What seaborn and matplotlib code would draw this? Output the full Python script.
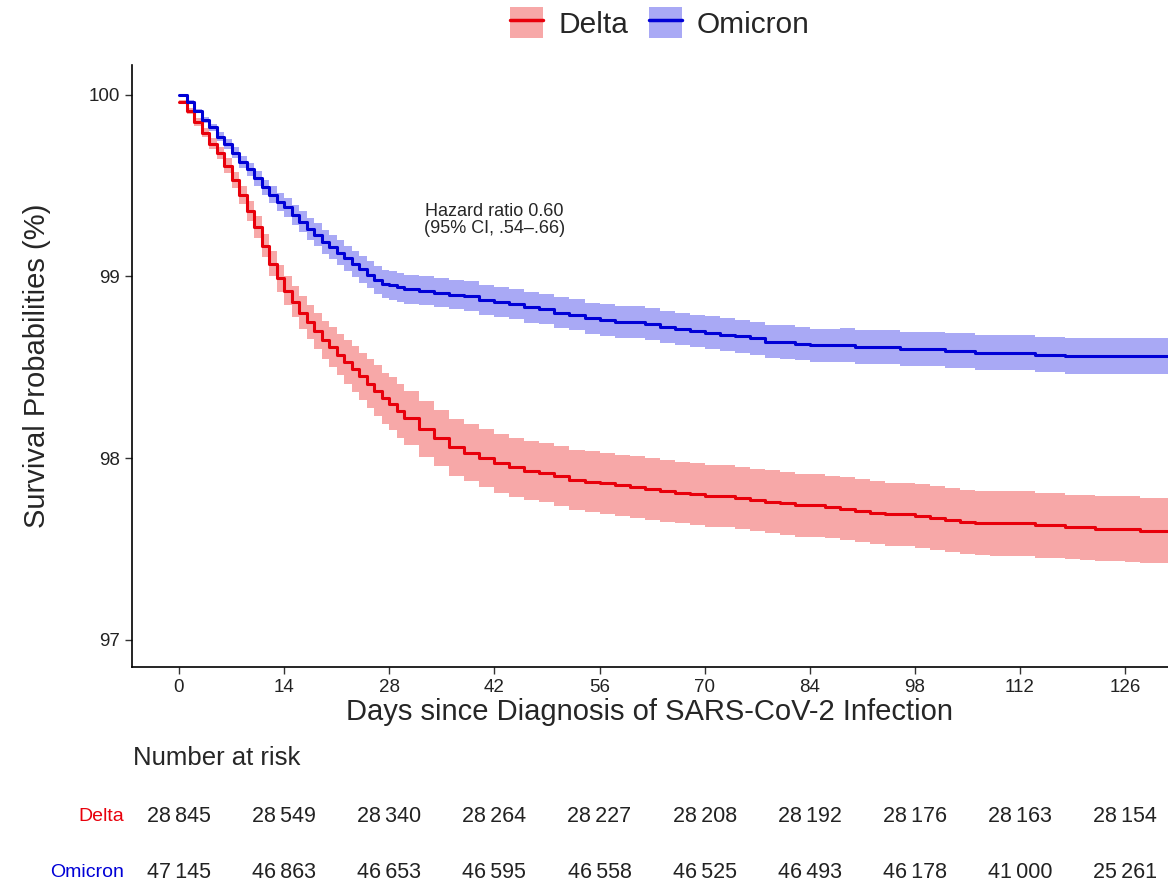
import numpy as np
import pandas as pd
import matplotlib
matplotlib.use("Agg")
import matplotlib.pyplot as plt
from matplotlib.patches import Patch
from matplotlib.lines import Line2D
from matplotlib.transforms import blended_transform_factory
import seaborn as sns

days = list(range(0, 31)) + list(range(32, 133, 2))

delta_surv = [99.96, 99.91, 99.85, 99.79, 99.73, 99.68, 99.61, 99.53, 99.45, 99.36,
              99.27, 99.17, 99.07, 98.99, 98.92, 98.86, 98.80, 98.75, 98.70, 98.65,
              98.61, 98.57, 98.53, 98.49, 98.45, 98.41, 98.37, 98.33, 98.30, 98.26,
              98.22,
              98.16, 98.11, 98.06, 98.03, 98.00, 97.97, 97.95, 97.93, 97.92, 97.90,
              97.88, 97.87, 97.86, 97.85, 97.84, 97.83, 97.82, 97.81, 97.80, 97.79,
              97.79, 97.78, 97.77, 97.76, 97.75, 97.74, 97.74, 97.73, 97.72, 97.71,
              97.70, 97.69, 97.69, 97.68, 97.67, 97.66, 97.65, 97.64, 97.64, 97.64,
              97.64, 97.63, 97.63, 97.62, 97.62, 97.61, 97.61, 97.61, 97.60, 97.60,
              97.60]
omicron_surv = [100.00, 99.96, 99.91, 99.86, 99.82, 99.77, 99.73, 99.68, 99.63, 99.59,
                99.54, 99.49, 99.45, 99.41, 99.38, 99.34, 99.30, 99.26, 99.23, 99.19,
                99.16, 99.13, 99.10, 99.07, 99.04, 99.01, 98.98, 98.96, 98.95, 98.94,
                98.93,
                98.92, 98.91, 98.90, 98.89, 98.87, 98.86, 98.85, 98.83, 98.82, 98.80,
                98.79, 98.77, 98.76, 98.75, 98.75, 98.74, 98.72, 98.71, 98.70, 98.69,
                98.68, 98.67, 98.66, 98.64, 98.64, 98.63, 98.62, 98.62, 98.62, 98.61,
                98.61, 98.61, 98.60, 98.60, 98.60, 98.59, 98.59, 98.58, 98.58, 98.58,
                98.58, 98.57, 98.57, 98.56, 98.56, 98.56, 98.56, 98.56, 98.56, 98.56,
                98.56]

# half width of the 95% CI bands
delta_hw = [0.01, 0.015, 0.02, 0.025, 0.03, 0.035, 0.04, 0.045, 0.05, 0.055,
            0.06, 0.065, 0.07, 0.075, 0.08, 0.085, 0.09, 0.095, 0.10, 0.105,
            0.11, 0.115, 0.12, 0.125, 0.13, 0.135, 0.14, 0.14, 0.145, 0.15,
            0.15,
            0.152, 0.155, 0.157, 0.158, 0.16, 0.161, 0.162, 0.163, 0.164, 0.165,
            0.166, 0.167, 0.168, 0.169, 0.17, 0.17, 0.17, 0.17, 0.17, 0.171,
            0.171, 0.171, 0.172, 0.172, 0.172, 0.173, 0.173, 0.173, 0.174, 0.174,
            0.174, 0.175, 0.175, 0.175, 0.175, 0.176, 0.176, 0.176, 0.177, 0.177,
            0.177, 0.178, 0.178, 0.178, 0.179, 0.179, 0.179, 0.18, 0.18, 0.18,
            0.18]
omicron_hw = [0.005, 0.01, 0.013, 0.016, 0.02, 0.023, 0.026, 0.03, 0.033, 0.036,
              0.04, 0.043, 0.046, 0.05, 0.052, 0.055, 0.058, 0.06, 0.062, 0.064,
              0.066, 0.068, 0.07, 0.072, 0.074, 0.075, 0.076, 0.077, 0.078, 0.079,
              0.08,
              0.08, 0.081, 0.081, 0.082, 0.082, 0.083, 0.083, 0.084, 0.084, 0.085,
              0.085, 0.086, 0.086, 0.087, 0.087, 0.088, 0.088, 0.089, 0.089, 0.09,
              0.09, 0.09, 0.091, 0.091, 0.092, 0.092, 0.093, 0.093, 0.094, 0.094,
              0.095, 0.095, 0.095, 0.096, 0.096, 0.096, 0.097, 0.097, 0.097, 0.098,
              0.098, 0.098, 0.099, 0.099, 0.099, 0.1, 0.1, 0.1, 0.1, 0.1,
              0.1]

risk_days = [0, 14, 28, 42, 56, 70, 84, 98, 112, 126]
delta_risk = [28845, 28549, 28340, 28264, 28227, 28208, 28192, 28176, 28163, 28154]
omicron_risk = [47145, 46863, 46653, 46595, 46558, 46525, 46493, 46178, 41000, 25261]

groups = ["Delta", "Omicron"]
line_col = {"Delta": "#e8000b", "Omicron": "#0000d6"}
band_col = {"Delta": "#f7a8a8", "Omicron": "#a9a9f5"}

df = pd.DataFrame({
    "day": days * 2,
    "surv": delta_surv + omicron_surv,
    "hw": delta_hw + omicron_hw,
    "group": ["Delta"] * len(days) + ["Omicron"] * len(days),
})

sns.set_theme(style="ticks")
plt.rcParams["font.family"] = ["Liberation Sans", "DejaVu Sans"]

fig = plt.figure(figsize=(11.68, 8.88), dpi=100)
ax = fig.add_axes([0.113, 0.249, 0.887, 0.678])

for g in groups:
    sub = df[df.group == g]
    ax.fill_between(sub.day, sub.surv - sub.hw, sub.surv + sub.hw, step="post",
                    color=band_col[g], linewidth=0, zorder=1)

sns.lineplot(data=df, x="day", y="surv", hue="group", palette=line_col,
             drawstyle="steps-post", linewidth=2.2, legend=False, ax=ax,
             estimator=None, zorder=3)

ax.set_xlim(-6.26, 131.7)
ax.set_ylim(96.85, 100.165)
ax.set_xticks(risk_days)
ax.set_yticks([97, 98, 99, 100])
ax.tick_params(axis="both", labelsize=13.5, length=5, width=1, color="#333333",
               labelcolor="#222222")
for s in ["top", "right"]:
    ax.spines[s].set_visible(False)
for s in ["left", "bottom"]:
    ax.spines[s].set_linewidth(1.2)
    ax.spines[s].set_color("black")
ax.set_xlabel("Days since Diagnosis of SARS-CoV-2 Infection", fontsize=21, labelpad=2)
ax.set_ylabel("Survival Probabilities (%)", fontsize=21, labelpad=27)

ax.text(42, 99.31, "Hazard ratio 0.60\n(95% CI, .54\u2013.66)", ha="center",
        va="center", fontsize=13, linespacing=1.05)

handles = [(Patch(facecolor=band_col[g], edgecolor="none"),
            Line2D([], [], color=line_col[g], linewidth=2.5)) for g in groups]
fig.legend(handles, groups, loc="center", bbox_to_anchor=(0.565, 0.974), ncol=2,
           frameon=False, fontsize=21.5, handlelength=1.1, handleheight=1.2,
           columnspacing=0.7, handletextpad=0.5)

# number at risk table
tr = blended_transform_factory(ax.transData, fig.transFigure)
fig.text(0.114, 0.146, "Number at risk", fontsize=18.5, va="center", ha="left")
rows = [("Delta", delta_risk, 0.080), ("Omicron", omicron_risk, 0.017)]
for name, vals, yy in rows:
    fig.text(0.106, yy, name, color=line_col[name], fontsize=14, ha="right", va="center")
    for d, n in zip(risk_days, vals):
        lab = f"{n:,}".replace(",", "\u2009")
        ax.text(d, yy, lab, transform=tr, ha="center", va="center", fontsize=15.5,
                color="#222222")

fig.savefig("out.png", dpi=100, facecolor="white")
